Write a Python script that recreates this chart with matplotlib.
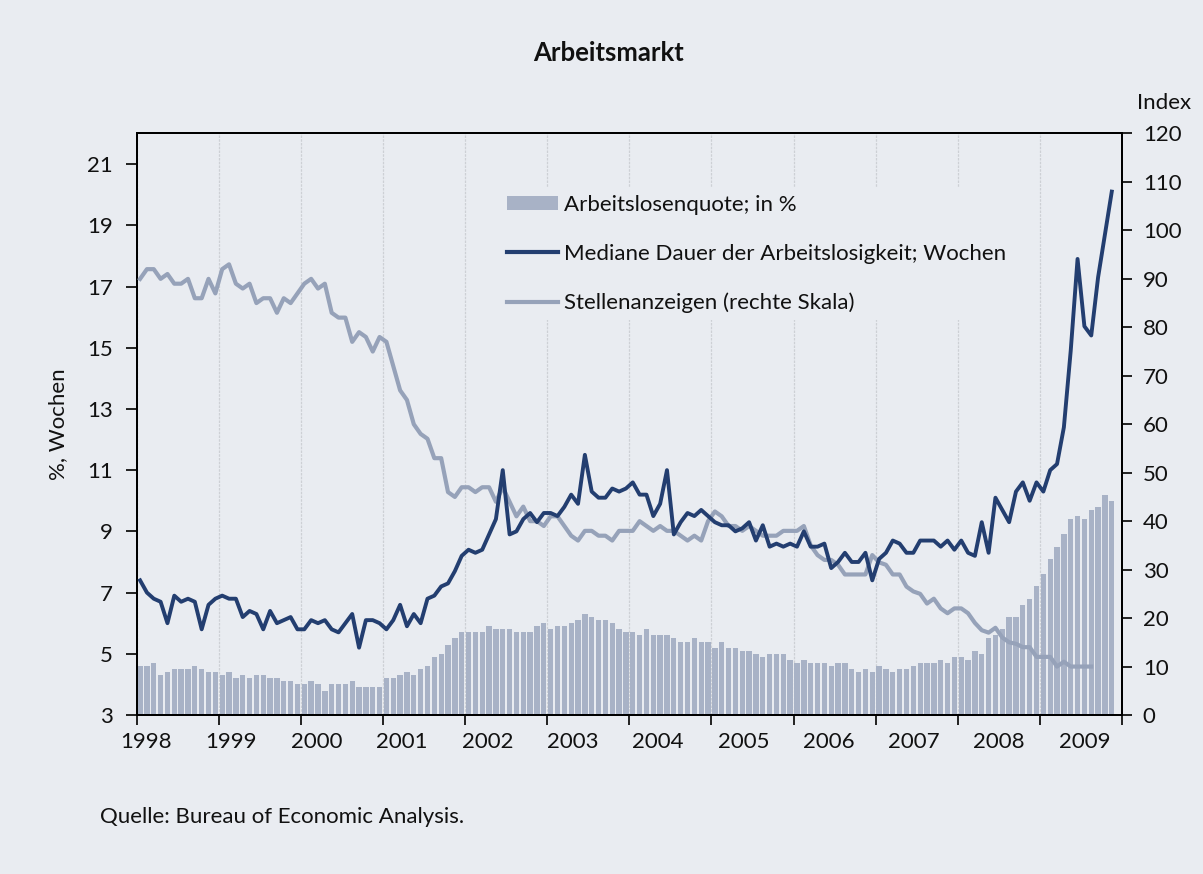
import numpy as np
import matplotlib
matplotlib.use("Agg")
import matplotlib.pyplot as plt
from matplotlib.patches import Patch
from matplotlib.lines import Line2D

plt.rcParams['font.family'] = ['Lato', 'DejaVu Sans']

# Monatswerte Jan 1998 - Nov 2009
years = list(range(1998, 2010))

arbeitslosenquote = [
    4.6, 4.6, 4.7, 4.3, 4.4, 4.5, 4.5, 4.5, 4.6, 4.5, 4.4, 4.4,   # 1998
    4.3, 4.4, 4.2, 4.3, 4.2, 4.3, 4.3, 4.2, 4.2, 4.1, 4.1, 4.0,   # 1999
    4.0, 4.1, 4.0, 3.8, 4.0, 4.0, 4.0, 4.1, 3.9, 3.9, 3.9, 3.9,   # 2000
    4.2, 4.2, 4.3, 4.4, 4.3, 4.5, 4.6, 4.9, 5.0, 5.3, 5.5, 5.7,   # 2001
    5.7, 5.7, 5.7, 5.9, 5.8, 5.8, 5.8, 5.7, 5.7, 5.7, 5.9, 6.0,   # 2002
    5.8, 5.9, 5.9, 6.0, 6.1, 6.3, 6.2, 6.1, 6.1, 6.0, 5.8, 5.7,   # 2003
    5.7, 5.6, 5.8, 5.6, 5.6, 5.6, 5.5, 5.4, 5.4, 5.5, 5.4, 5.4,   # 2004
    5.2, 5.4, 5.2, 5.2, 5.1, 5.1, 5.0, 4.9, 5.0, 5.0, 5.0, 4.8,   # 2005
    4.7, 4.8, 4.7, 4.7, 4.7, 4.6, 4.7, 4.7, 4.5, 4.4, 4.5, 4.4,   # 2006
    4.6, 4.5, 4.4, 4.5, 4.5, 4.6, 4.7, 4.7, 4.7, 4.8, 4.7, 4.9,   # 2007
    4.9, 4.8, 5.1, 5.0, 5.5, 5.6, 5.8, 6.2, 6.2, 6.6, 6.8, 7.2,   # 2008
    7.6, 8.1, 8.5, 8.9, 9.4, 9.5, 9.4, 9.7, 9.8, 10.2, 10.0,      # 2009
]

mediane_dauer = [
    7.4, 7.0, 6.8, 6.7, 6.0, 6.9, 6.7, 6.8, 6.7, 5.8, 6.6, 6.8,
    6.9, 6.8, 6.8, 6.2, 6.4, 6.3, 5.8, 6.4, 6.0, 6.1, 6.2, 5.8,
    5.8, 6.1, 6.0, 6.1, 5.8, 5.7, 6.0, 6.3, 5.2, 6.1, 6.1, 6.0,
    5.8, 6.1, 6.6, 5.9, 6.3, 6.0, 6.8, 6.9, 7.2, 7.3, 7.7, 8.2,
    8.4, 8.3, 8.4, 8.9, 9.4, 11.0, 8.9, 9.0, 9.4, 9.6, 9.3, 9.6,
    9.6, 9.5, 9.8, 10.2, 9.9, 11.5, 10.3, 10.1, 10.1, 10.4, 10.3, 10.4,
    10.6, 10.2, 10.2, 9.5, 9.9, 11.0, 8.9, 9.3, 9.6, 9.5, 9.7, 9.5,
    9.3, 9.2, 9.2, 9.0, 9.1, 9.3, 8.7, 9.2, 8.5, 8.6, 8.5, 8.6,
    8.5, 9.0, 8.5, 8.5, 8.6, 7.8, 8.0, 8.3, 8.0, 8.0, 8.3, 7.4,
    8.1, 8.3, 8.7, 8.6, 8.3, 8.3, 8.7, 8.7, 8.7, 8.5, 8.7, 8.4,
    8.7, 8.3, 8.2, 9.3, 8.3, 10.1, 9.7, 9.3, 10.3, 10.6, 10.0, 10.6,
    10.3, 11.0, 11.2, 12.4, 14.9, 17.9, 15.7, 15.4, 17.3, 18.7, 20.1,
]

# Stellenanzeigen-Index (rechte Skala), bis Aug 2009
stellenanzeigen = [
    90, 92, 92, 90, 91, 89, 89, 90, 86, 86, 90, 87,
    92, 93, 89, 88, 89, 85, 86, 86, 83, 86, 85, 87,
    89, 90, 88, 89, 83, 82, 82, 77, 79, 78, 75, 78,
    77, 72, 67, 65, 60, 58, 57, 53, 53, 46, 45, 47,
    47, 46, 47, 47, 44, 47, 44, 41, 43, 40, 40, 39,
    41, 41, 39, 37, 36, 38, 38, 37, 37, 36, 38, 38,
    38, 40, 39, 38, 39, 38, 38, 37, 36, 37, 36, 40,
    42, 41, 39, 39, 38, 39, 38, 37, 37, 37, 38, 38,
    38, 39, 35, 33, 32, 32, 31, 29, 29, 29, 29, 33,
    31.5, 31, 29, 29, 26.5, 25.5, 25, 23, 24, 22, 21, 22,
    22, 21, 19, 17.5, 17, 18, 16, 15, 14.7, 14, 14, 12,
    12, 12, 10, 11, 10, 10, 10, 10,
]

BG = '#e9ecf1'
BAR = '#a8b2c6'
NAVY = '#233e70'
LIGHT = '#96a2b9'
TXT = '#111111'

fig = plt.figure(figsize=(12.03, 8.74), dpi=100, facecolor=BG)
ax = fig.add_axes([0.1136, 0.1819, 0.8191, 0.6654])
ax.set_facecolor(BG)

x_bar = np.arange(len(arbeitslosenquote)) + 0.5
x_dauer = np.arange(len(mediane_dauer)) + 0.5
x_stellen = np.arange(len(stellenanzeigen)) + 0.5

ax.bar(x_bar, arbeitslosenquote, width=0.78, color=BAR, zorder=2)
ax.set_xlim(0, 144)
ax.set_ylim(3, 22)
ax.set_yticks(np.arange(3, 22, 2))

# Jahresmarken + Gitter, Beschriftung leicht versetzt wie im Original
ax.set_xticks(np.arange(0, 145, 12))
ax.set_xticklabels([])
ax.set_xticks([12 * (0.115 + 1.039 * k) for k in range(len(years))], minor=True)
ax.set_xticklabels([str(y) for y in years], minor=True)
ax.tick_params(axis='x', which='minor', length=0, pad=12, labelsize=16, colors=TXT)
ax.tick_params(axis='x', which='major', length=7, width=1.3, direction='out', colors=TXT)
ax.tick_params(axis='y', length=8, width=1.3, pad=9, labelsize=16, colors=TXT)
ax.grid(axis='x', which='major', color='#cdd0d5', linestyle=(0, (2, 1)), linewidth=0.9, zorder=1)
ax.set_axisbelow(True)
ax.set_ylabel('%, Wochen', fontsize=16, color=TXT, labelpad=14)

# rechte Skala
ax2 = ax.twinx()
ax2.set_ylim(0, 120)
ax2.set_yticks(np.arange(0, 121, 10))
ax2.tick_params(axis='y', length=7, width=1.3, pad=8, labelsize=16, colors=TXT)
ax2.plot(x_stellen, stellenanzeigen, color=LIGHT, lw=3.0, solid_joinstyle='round', zorder=3)

# Dauer der Arbeitslosigkeit obenauf
ax3 = ax.twinx()
ax3.set_ylim(3, 22)
ax3.axis('off')
ax3.plot(x_dauer, mediane_dauer, color=NAVY, lw=2.8, solid_joinstyle='round', zorder=4)

for a in (ax, ax2):
    for s in a.spines.values():
        s.set_color('black')
        s.set_linewidth(1.4)

fig.text(1137 / 1203, 1 - 103 / 874, 'Index', fontsize=16, color=TXT, ha='left', va='center')
fig.text(609 / 1203, 1 - 53 / 874, 'Arbeitsmarkt', fontsize=18.5, fontweight='bold',
         color=TXT, ha='center', va='center')
fig.text(100 / 1203, 1 - 817 / 874, 'Quelle: Bureau of Economic Analysis.',
         fontsize=16, color=TXT, ha='left', va='center')

handles = [
    Patch(facecolor=BAR, edgecolor='none'),
    Line2D([], [], color=NAVY, lw=3),
    Line2D([], [], color=LIGHT, lw=3),
]
labels = [
    'Arbeitslosenquote; in %',
    'Mediane Dauer der Arbeitslosigkeit; Wochen',
    'Stellenanzeigen (rechte Skala)',
]
leg = ax3.legend(handles, labels, loc='upper left',
                 bbox_to_anchor=(500 / 1203, 1 - 188 / 874),
                 bbox_transform=fig.transFigure, fontsize=16,
                 frameon=True, facecolor=BG, edgecolor='none', framealpha=1,
                 fancybox=False, handlelength=2.3, handleheight=0.6,
                 handletextpad=0.3, labelspacing=1.3, borderpad=0.3,
                 borderaxespad=0)
for t in leg.get_texts():
    t.set_color(TXT)

fig.savefig('out.png', dpi=100, facecolor=BG)
